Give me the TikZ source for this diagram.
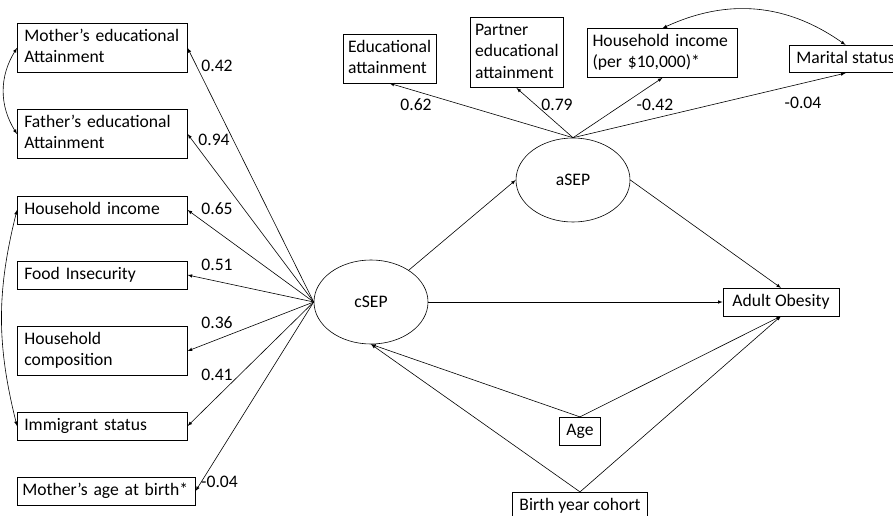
\documentclass[tikz,border=0pt]{standalone}
\usepackage{fontspec}
\setmainfont{Carlito}
\usetikzlibrary{arrows,shapes.geometric}

\newcommand{\diagfont}{\fontsize{17.6}{21.4}\selectfont}

\begin{document}
\begin{tikzpicture}[->,>=latex,x=1pt,y=-1pt,line width=0.6pt]
  \tikzstyle{obs}=[draw,font=\diagfont,inner xsep=7pt,inner ysep=3.1pt,align=left,
                   execute at begin node=\strut,execute at end node=\strut]
  \tikzstyle{lat}=[draw,ellipse,font=\diagfont,minimum width=114pt,minimum height=84pt]
  \tikzstyle{coef}=[font=\diagfont,inner sep=0pt]

  \useasboundingbox (0,0) rectangle (893,516);

  % childhood indicators
  \node[obs,anchor=west,text width=156pt] (mEdu)  at (17,48)  {Mother’s educational\\Attainment};
  \node[obs,anchor=west,text width=156pt] (fEdu)  at (17,134) {Father’s educational\\Attainment};
  \node[obs,anchor=west,text width=156pt] (hInc)  at (17,210) {Household income};
  \node[obs,anchor=west,text width=156pt] (food)  at (17,275) {Food Insecurity};
  \node[obs,anchor=west,text width=156pt] (hComp) at (17,351) {Household\\composition};
  \node[obs,anchor=west,text width=156pt] (immig) at (17,426) {Immigrant status};
  \node[obs,anchor=west,inner xsep=5pt,text width=168pt] (mAge) at (17,491) {Mother’s age at birth*};

  % adult indicators
  \node[obs,inner xsep=5pt,text width=83pt]  (edu)     at (389.5,58.5) {Educational\\attainment};
  \node[obs,inner xsep=5pt,text width=83pt]  (partner) at (516.5,52.5) {Partner\\educational\\attainment};
  \node[obs,inner xsep=5pt,text width=140pt] (aInc)    at (662.5,53)   {Household income\\(per \$10,000)*};
  \node[obs,anchor=west]                     (marital) at (789,59)     {Marital status};

  % latent variables and outcome
  \node[lat] (cSEP) at (371,302) {cSEP};
  \node[lat] (aSEP) at (573,180) {aSEP};
  \node[obs,minimum width=116pt,align=center] (obes)   at (781,302) {Adult Obesity};
  \node[obs]                                  (age)    at (580,431) {Age};
  \node[obs]                                  (cohort) at (580,506) {Birth year cohort};

  \path (cSEP.west) edge (mEdu.east)
                    edge (fEdu.east)
                    edge (hInc.east)
                    edge (food.east)
                    edge (hComp.east)
                    edge (immig.east)
                    edge (mAge.east);

  \path (aSEP.north) edge (edu.south)
                     edge (partner.south)
                     edge (aInc.south)
                     edge (marital.south);

  \path (cSEP)         edge (aSEP.west)
        (cSEP.east)    edge (obes.west)
        (aSEP.east)    edge (obes.north)
        (age.north)    edge (cSEP.south)
                       edge (obes.south)
        (cohort.north) edge (cSEP.south)
                       edge (obes.south);

  \path[<->] (mEdu.west) edge [bend right=32] (fEdu.west)
             (hInc.west) edge [bend right=14] (immig.west)
             (aInc.north) edge [bend left=30] (marital.north);

  % loadings
  \node[coef] (lmEdu)  at (217,66)    {0.42};
  \node[coef] (lfEdu)  at (214,140)   {0.94};
  \node[coef] (lhInc)  at (217,209)   {0.65};
  \node[coef] (lfood)  at (217,265)   {0.51};
  \node[coef] (lhComp) at (217,323)   {0.36};
  \node[coef] (limmig) at (217,375)   {0.41};
  \node[coef] (lmAge)  at (219.5,482) {-0.04};
  \node[coef] (ledu)     at (416,105) {0.62};
  \node[coef] (lpartner) at (557,105) {0.79};
  \node[coef] (laInc)    at (655,105) {-0.42};
  \node[coef] (lmarital) at (803,103) {-0.04};
\end{tikzpicture}
\end{document}
